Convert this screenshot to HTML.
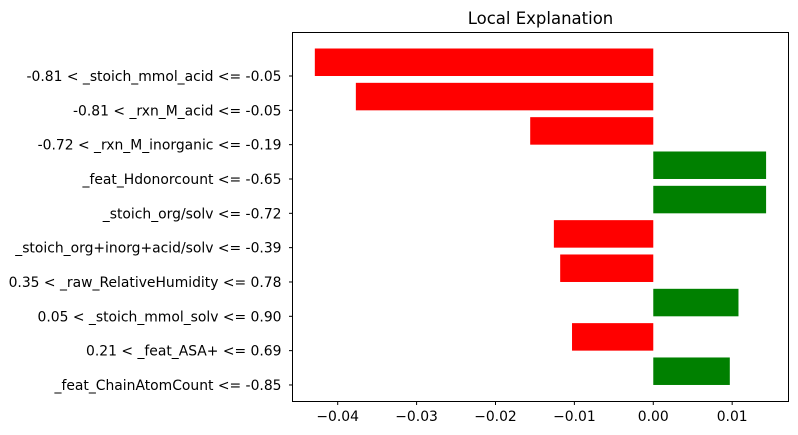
<!DOCTYPE html>
<html><head><meta charset="utf-8"><style>
html,body{margin:0;padding:0;background:#fff;width:798px;height:435px;overflow:hidden}
svg text{font-family:"DejaVu Sans","Liberation Sans",sans-serif;fill:#000}
</style></head><body>
<svg id="chart" width="798" height="435" xmlns="http://www.w3.org/2000/svg">
<text x="540.5" y="24" font-size="16.5" text-anchor="middle">Local Explanation</text>
<g id="bars"></g>
<g id="yticks"></g>
<g id="xticks"></g>
<rect x="292.5" y="32.5" width="496" height="369" fill="none" stroke="#000" stroke-width="1"/>
</svg>
<script>
const features = ["-0.81 < _stoich_mmol_acid <= -0.05","-0.81 < _rxn_M_acid <= -0.05","-0.72 < _rxn_M_inorganic <= -0.19","_feat_Hdonorcount <= -0.65","_stoich_org/solv <= -0.72","_stoich_org+inorg+acid/solv <= -0.39","0.35 < _raw_RelativeHumidity <= 0.78","0.05 < _stoich_mmol_solv <= 0.90","0.21 < _feat_ASA+ <= 0.69","_feat_ChainAtomCount <= -0.85"];
const weights = [-0.0429,-0.0377,-0.0156,0.0143,0.0143,-0.0126,-0.0118,0.0108,-0.0103,0.0097];
const xTicks = [-0.04,-0.03,-0.02,-0.01,0.00,0.01];
const xTickLabels = ["\u22120.04","\u22120.03","\u22120.02","\u22120.01","0.00","0.01"];
const NS="http://www.w3.org/2000/svg";
const xmin=-0.04573,xmax=0.01714,left=292.5,right=788.5;
function xs(v){return left+(v-xmin)/(xmax-xmin)*(right-left);}
const t0=76,step=34.33,bh=27.5;
function ys(i){return t0+i*step;}
const bars=document.getElementById('bars'),yt=document.getElementById('yticks'),xt=document.getElementById('xticks');
weights.forEach((w,i)=>{
  const r=document.createElementNS(NS,'rect');
  const x0=Math.min(xs(0),xs(w)),x1=Math.max(xs(0),xs(w));
  r.setAttribute('x',x0);r.setAttribute('width',x1-x0);
  r.setAttribute('y',ys(i)-bh);r.setAttribute('height',bh);
  r.setAttribute('fill',w>0?'#008000':'#ff0000');
  
  
  bars.appendChild(r);
  const l=document.createElementNS(NS,'line');
  l.setAttribute('x1',left-3.5);l.setAttribute('x2',left);l.setAttribute('y1',ys(i));l.setAttribute('y2',ys(i));l.setAttribute('stroke','#000');
  
  
  yt.appendChild(l);
  const t=document.createElementNS(NS,'text');
  t.setAttribute('x',left-11);t.setAttribute('y',ys(i)+5);t.setAttribute('font-size','13.9');t.setAttribute('text-anchor','end');
  t.textContent=features[i];
  
  
  yt.appendChild(t);
});
xTicks.forEach((v,i)=>{
  const l=document.createElementNS(NS,'line');
  l.setAttribute('x1',xs(v));l.setAttribute('x2',xs(v));l.setAttribute('y1',401.5);l.setAttribute('y2',405);l.setAttribute('stroke','#000');
  
  
  xt.appendChild(l);
  const t=document.createElementNS(NS,'text');
  t.setAttribute('x',xs(v));t.setAttribute('y',421);t.setAttribute('font-size','13.9');t.setAttribute('text-anchor','middle');
  t.textContent=xTickLabels[i];
  
  
  xt.appendChild(t);
});
</script>
</body></html>
